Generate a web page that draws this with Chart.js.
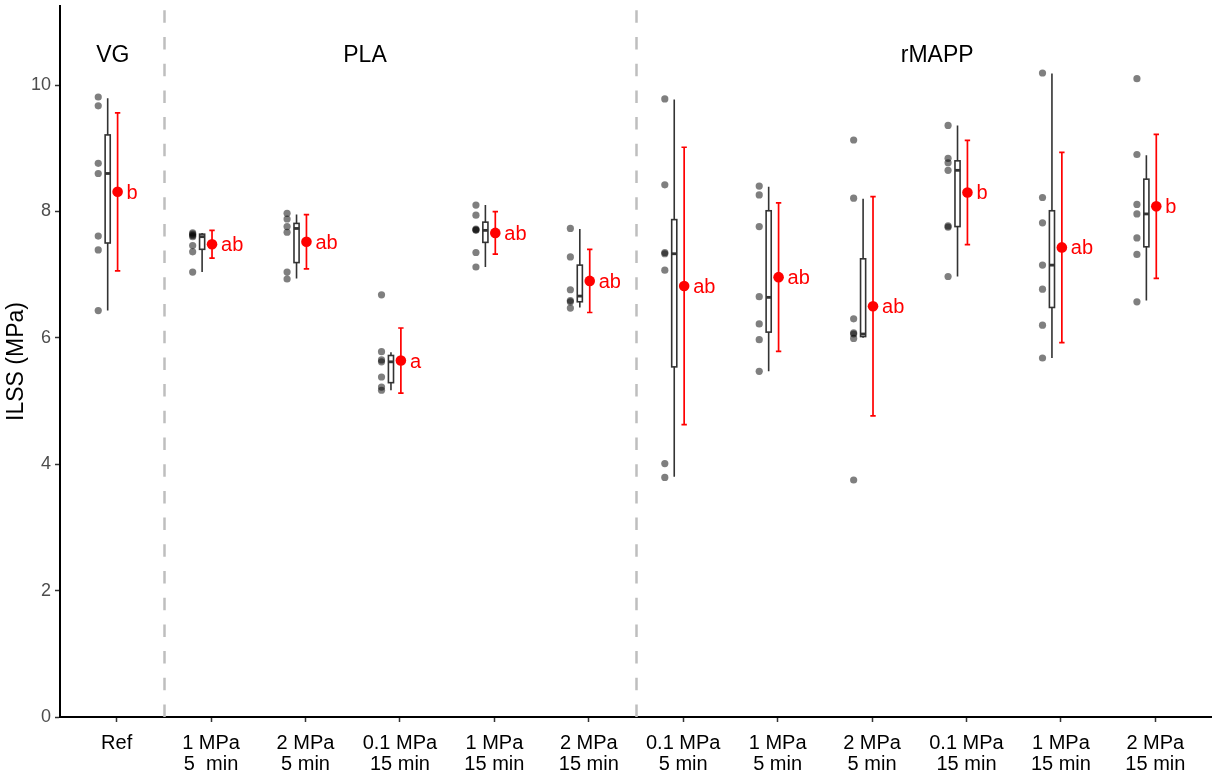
<!DOCTYPE html>
<html>
<head>
<meta charset="utf-8">
<script src="https://cdn.jsdelivr.net/npm/chart.js@4.4.1/dist/chart.umd.min.js"></script>
<style>
  html, body { margin: 0; padding: 0; background: #ffffff; }
  #wrap { width: 1212px; height: 771px; }
</style>
</head>
<body>
<div id="wrap"><canvas id="ilss" width="1212" height="771"></canvas></div>
<script>
// ---- tick labels / categories ----
const xLabels = [
  ['Ref'],
  ['1 MPa', '5  min'], ['2 MPa', '5 min'], ['0.1 MPa', '15 min'], ['1 MPa', '15 min'], ['2 MPa', '15 min'],
  ['0.1 MPa', '5 min'], ['1 MPa', '5 min'], ['2 MPa', '5 min'], ['0.1 MPa', '15 min'], ['1 MPa', '15 min'], ['2 MPa', '15 min']
];
const yTicks = [0, 2, 4, 6, 8, 10];

// ---- material groups (label, x position in category units) ----
const groupNames = ['VG', 'PLA', 'rMAPP'];
const groupPos = [0.96, 3.63, 9.69];
const groupLabelY = 10.47;
const separators = [1.5, 6.5];

// ---- individual specimens, ILSS in MPa ----
const ptsRef      = [9.81, 9.67, 8.76, 8.60, 7.61, 7.39, 6.43];
const ptsPla1_5   = [7.66, 7.64, 7.62, 7.60, 7.46, 7.36, 7.04];
const ptsPla2_5   = [7.97, 7.88, 7.76, 7.67, 7.04, 6.93];
const ptsPla01_15 = [6.68, 5.78, 5.65, 5.62, 5.38, 5.22, 5.17];
const ptsPla1_15  = [8.10, 7.94, 7.72, 7.71, 7.70, 7.35, 7.12];
const ptsPla2_15  = [7.73, 7.28, 6.76, 6.59, 6.57, 6.47];
const ptsMapp01_5 = [9.78, 8.42, 7.35, 7.33, 7.07, 4.01, 3.79];
const ptsMapp1_5  = [8.40, 8.26, 7.76, 6.65, 6.22, 5.97, 5.47];
const ptsMapp2_5  = [9.13, 8.21, 6.30, 6.08, 6.06, 5.99, 3.75];
const ptsMapp01_15 = [9.36, 8.84, 8.77, 8.65, 7.77, 7.75, 6.97];
const ptsMapp1_15 = [10.19, 8.22, 7.82, 7.15, 6.77, 6.20, 5.68];
const ptsMapp2_15 = [10.10, 8.90, 8.11, 7.96, 7.58, 7.32, 6.57];
const specimens = [ptsRef, ptsPla1_5, ptsPla2_5, ptsPla01_15, ptsPla1_15, ptsPla2_15,
                   ptsMapp01_5, ptsMapp1_5, ptsMapp2_5, ptsMapp01_15, ptsMapp1_15, ptsMapp2_15];

// ---- box plot statistics ----
const whiskerLow  = [6.43, 7.04, 6.94, 5.17, 7.12, 6.48, 3.80, 5.47, 6.00, 6.97, 5.68, 6.59];
const q1          = [7.50, 7.40, 7.19, 5.29, 7.51, 6.57, 5.54, 6.09, 6.02, 7.76, 6.48, 7.44];
const median      = [8.60, 7.60, 7.73, 5.62, 7.70, 6.66, 7.33, 6.64, 6.06, 8.65, 7.15, 7.96];
const q3          = [9.21, 7.64, 7.81, 5.72, 7.83, 7.15, 7.87, 8.01, 7.25, 8.80, 8.01, 8.51];
const whiskerHigh = [9.79, 7.66, 7.95, 5.77, 8.10, 7.72, 9.77, 8.39, 8.20, 9.36, 10.18, 8.89];

// ---- mean ± standard deviation and significance letters ----
const means = [8.31, 7.48, 7.52, 5.64, 7.66, 6.90, 6.82, 6.96, 6.50, 8.30, 7.43, 8.08];
const sds   = [1.25, 0.22, 0.43, 0.515, 0.335, 0.50, 2.195, 1.175, 1.735, 0.825, 1.505, 1.14];
const letters = ['b', 'ab', 'ab', 'a', 'ab', 'ab', 'ab', 'ab', 'ab', 'b', 'ab', 'b'];

// ---- layout of the three layers inside each category ----
const PT_OFFSET = -0.195;
const BOX_OFFSET = -0.095;
const BOX_HALF = 0.027;
const MEAN_OFFSET = 0.01;
const Y_MAX = 11.25;
const FONT = "'Liberation Sans', Arial, Helvetica, sans-serif";

Chart.defaults.font.family = FONT;

const specimenData = [];
specimens.forEach((vals, i) => vals.forEach(v => specimenData.push({ x: i + 1 + PT_OFFSET, y: v })));
const meanData = means.map((m, i) => ({ x: i + 1 + MEAN_OFFSET, y: m }));

const overlay = {
  id: 'overlay',
  beforeDatasetsDraw(chart) {
    const { ctx, chartArea, scales: { x, y } } = chart;
    ctx.save();

    // dashed separators between material groups
    ctx.strokeStyle = '#bebebe';
    ctx.lineWidth = 2.5;
    ctx.setLineDash([12.5, 14.2]);
    separators.forEach(s => {
      const px = Math.round(x.getPixelForValue(s)) + 0.5;
      ctx.beginPath();
      ctx.moveTo(px, chartArea.bottom);
      ctx.lineTo(px, chartArea.top);
      ctx.stroke();
    });
    ctx.setLineDash([]);

    // material group names
    ctx.fillStyle = '#000000';
    ctx.font = '23px ' + FONT;
    ctx.textAlign = 'center';
    ctx.textBaseline = 'middle';
    groupNames.forEach((g, i) => {
      ctx.fillText(g, x.getPixelForValue(groupPos[i]), y.getPixelForValue(groupLabelY));
    });

    // box plots
    const half = Math.abs(x.getPixelForValue(BOX_HALF) - x.getPixelForValue(0));
    ctx.strokeStyle = '#333333';
    for (let i = 0; i < median.length; i++) {
      const cx = x.getPixelForValue(i + 1 + BOX_OFFSET);
      const yLo = y.getPixelForValue(whiskerLow[i]);
      const yQ1 = y.getPixelForValue(q1[i]);
      const yMed = y.getPixelForValue(median[i]);
      const yQ3 = y.getPixelForValue(q3[i]);
      const yHi = y.getPixelForValue(whiskerHigh[i]);
      ctx.lineWidth = 1.6;
      ctx.beginPath();
      ctx.moveTo(cx, yLo); ctx.lineTo(cx, yQ1);
      ctx.moveTo(cx, yQ3); ctx.lineTo(cx, yHi);
      ctx.stroke();
      ctx.fillStyle = '#ffffff';
      ctx.fillRect(cx - half, yQ3, half * 2, yQ1 - yQ3);
      ctx.strokeRect(cx - half, yQ3, half * 2, yQ1 - yQ3);
      ctx.lineWidth = 2.8;
      ctx.beginPath();
      ctx.moveTo(cx - half, yMed); ctx.lineTo(cx + half, yMed);
      ctx.stroke();
    }

    // mean ± SD error bars
    ctx.strokeStyle = '#ff0000';
    ctx.lineWidth = 1.7;
    for (let i = 0; i < means.length; i++) {
      const cx = x.getPixelForValue(i + 1 + MEAN_OFFSET);
      const yTop = y.getPixelForValue(means[i] + sds[i]);
      const yBot = y.getPixelForValue(means[i] - sds[i]);
      ctx.beginPath();
      ctx.moveTo(cx, yTop); ctx.lineTo(cx, yBot);
      ctx.moveTo(cx - 2.7, yTop); ctx.lineTo(cx + 2.7, yTop);
      ctx.moveTo(cx - 2.7, yBot); ctx.lineTo(cx + 2.7, yBot);
      ctx.stroke();
    }
    ctx.restore();
  },
  afterDatasetsDraw(chart) {
    const { ctx, scales: { x, y } } = chart;
    ctx.save();
    ctx.fillStyle = '#ff0000';
    ctx.font = '20px ' + FONT;
    ctx.textAlign = 'left';
    ctx.textBaseline = 'alphabetic';
    letters.forEach((l, i) => {
      ctx.fillText(l, x.getPixelForValue(i + 1 + MEAN_OFFSET) + 9, y.getPixelForValue(means[i]) + 7);
    });
    ctx.restore();
  }
};

new Chart(document.getElementById('ilss'), {
  type: 'scatter',
  data: {
    datasets: [
      {
        label: 'Specimens',
        data: specimenData,
        pointRadius: 3.6,
        pointHoverRadius: 3.6,
        pointBackgroundColor: 'rgba(0,0,0,0.5)',
        pointBorderWidth: 0
      },
      {
        label: 'Mean',
        data: meanData,
        pointRadius: 5.3,
        pointHoverRadius: 5.3,
        pointBackgroundColor: '#ff0000',
        pointBorderWidth: 0
      }
    ]
  },
  options: {
    responsive: false,
    animation: false,
    devicePixelRatio: 1,
    events: [],
    layout: { autoPadding: false, padding: { top: 6, right: 0, left: 0, bottom: 0 } },
    plugins: { legend: { display: false }, tooltip: { enabled: false } },
    scales: {
      x: {
        type: 'linear',
        min: 0.4,
        max: 12.6,
        afterBuildTicks: s => { s.ticks = xLabels.map((_, i) => ({ value: i + 1 })); },
        afterFit: s => { s.height = 54; s.paddingLeft = 0; s.paddingRight = 0; },
        ticks: {
          autoSkip: false, maxRotation: 0, minRotation: 0, padding: 11,
          color: '#000000',
          font: { size: 20, lineHeight: 1.05 },
          callback: v => xLabels[Math.round(v) - 1]
        },
        grid: { display: true, drawOnChartArea: false, drawTicks: true, tickLength: 5, tickWidth: 1.5, color: '#333333' },
        border: { display: true, color: '#000000', width: 2 }
      },
      y: {
        min: 0,
        max: Y_MAX,
        afterBuildTicks: s => { s.ticks = yTicks.map(v => ({ value: v })); },
        afterFit: s => { s.width = 60; s.paddingTop = 0; s.paddingBottom = 0; },
        ticks: { color: '#4d4d4d', font: { size: 18 }, padding: 4 },
        grid: { display: true, drawOnChartArea: false, drawTicks: true, tickLength: 5, tickWidth: 1.5, color: '#333333' },
        border: { display: true, color: '#000000', width: 2 },
        title: { display: true, text: 'ILSS (MPa)', color: '#000000', font: { size: 23 }, padding: { top: 3, bottom: 0 } }
      }
    }
  },
  plugins: [overlay]
});
</script>
</body>
</html>
